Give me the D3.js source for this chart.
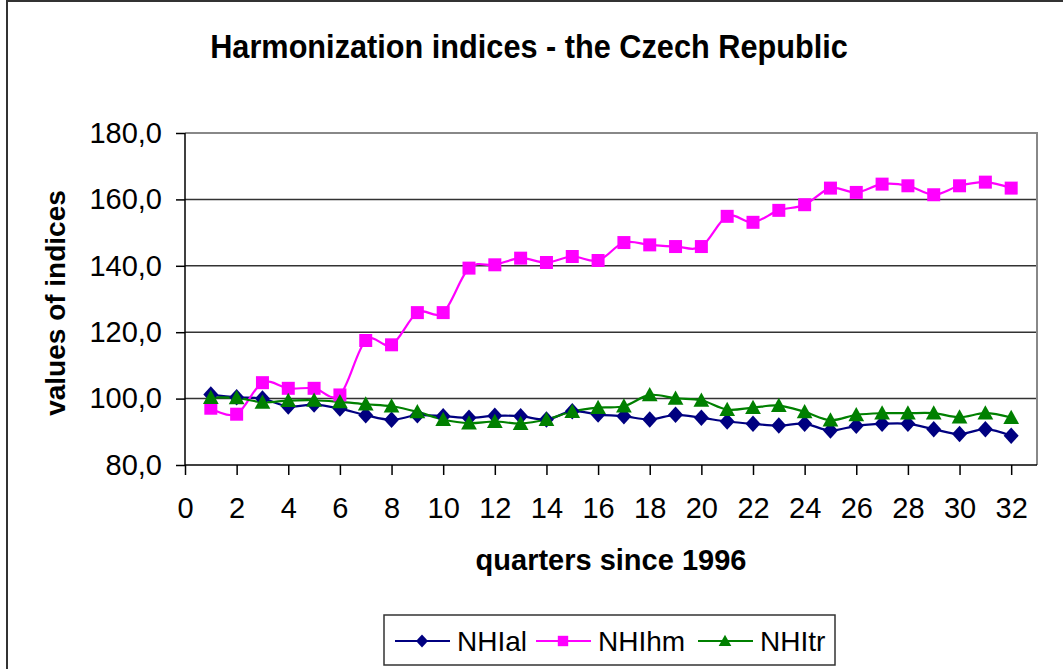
<!DOCTYPE html>
<html><head><meta charset="utf-8">
<script src="https://cdn.jsdelivr.net/npm/d3@7"></script>
<style>html,body{margin:0;padding:0;background:#fff;}svg{display:block;}</style>
</head><body>
<svg id="chart" width="1063" height="669"></svg>
<script>
const quarters = d3.range(1, 33);
const NHIal = [101.2,100.4,100.0,97.6,98.2,97.0,95.0,93.6,95.0,94.7,94.2,94.8,94.7,93.7,96.2,95.2,94.7,93.7,95.1,94.2,93.1,92.4,91.9,92.4,90.4,91.8,92.4,92.4,90.8,89.3,90.8,88.8];
const NHIhm = [97.1,95.3,104.8,103.1,103.1,101.1,117.5,116.2,125.9,125.9,139.3,140.3,142.3,141.0,142.8,141.6,147.0,146.3,145.8,145.8,154.9,153.1,156.7,158.4,163.4,162.1,164.6,164.1,161.4,164.1,165.2,163.4];
const NHItr = [100.3,100.2,98.9,99.4,99.5,99.0,98.3,97.7,96.0,93.7,92.6,93.1,92.5,93.7,96.1,97.3,97.7,101.1,100.1,99.5,96.7,97.3,97.9,96.0,93.5,95.1,95.6,95.6,95.6,94.4,95.6,94.3];
const seriesNames = ["NHIal","NHIhm","NHItr"];
const xTicks = d3.range(0, 33, 2);
const yTicks = [80,100,120,140,160,180];
const titleText = "Harmonization indices - the Czech Republic";
const xTitle = "quarters since 1996";
const yTitle = "values of indices";

// custom marker shapes (size = half extent in px)
const diamond = {draw(c, s){ c.moveTo(0,-s*1.1); c.lineTo(s,0); c.lineTo(0,s*1.1); c.lineTo(-s,0); c.closePath(); }};
const square = {draw(c, s){ c.rect(-s,-s,2*s,2*s); }};
const triangle = {draw(c, s){ c.moveTo(0,-s*1.05); c.lineTo(s*1.05,s*0.85); c.lineTo(-s*1.05,s*0.85); c.closePath(); }};

const series = [
  {name: seriesNames[0], values: NHIal, color: "#000080", symbol: diamond, size: 7.5},
  {name: seriesNames[1], values: NHIhm, color: "#FF00FF", symbol: square, size: 6.5},
  {name: seriesNames[2], values: NHItr, color: "#008000", symbol: triangle, size: 7.5}
];

const font = "'Liberation Sans', Arial, sans-serif";
const svg = d3.select("#chart");
const L = 185, R = 1037, T = 133, B = 465;
const x = d3.scaleLinear().domain([0, 33]).range([L, R]);
const y = d3.scaleLinear().domain([80, 180]).range([B, T]);

svg.append("rect").attr("x", 7).attr("y", 1).attr("width", 1100).attr("height", 700)
  .attr("fill", "#fff").attr("stroke", "#333").attr("stroke-width", 2);

svg.append("text").attr("transform", "translate(529,58) scale(0.93,1)").attr("text-anchor", "middle")
  .attr("font-family", font).attr("font-weight", "bold").attr("font-size", 33)
  .text(titleText);

svg.append("g").selectAll("line").data(yTicks.filter(d => d > 80 && d < 180)).join("line")
  .attr("x1", L).attr("x2", R).attr("y1", d => y(d)).attr("y2", d => y(d))
  .attr("stroke", "#333").attr("stroke-width", 1.5);

svg.append("path").attr("d", `M${L},${T}H${R}V${B}`).attr("fill", "none")
  .attr("stroke", "#888").attr("stroke-width", 2);

const yAxis = d3.axisLeft(y).tickValues(yTicks).tickSize(9).tickPadding(14)
  .tickFormat(d => d3.format(".1f")(d).replace(".", ","));
const gy = svg.append("g").attr("transform", `translate(${L},0)`).call(yAxis);
const xAxis = d3.axisBottom(x).tickValues(xTicks).tickSize(10).tickPadding(22);
const gx = svg.append("g").attr("transform", `translate(0,${B})`).call(xAxis);
[gx, gy].forEach(g => {
  g.select(".domain").attr("stroke", "#000").attr("stroke-width", 1.5);
  g.selectAll(".tick line").attr("stroke", "#000").attr("stroke-width", 1.5);
  g.selectAll(".tick text").attr("font-family", font).attr("font-size", 29).attr("fill", "#000");
});
gx.select(".domain").attr("d", `M${L},0H${R}`);
gy.select(".domain").attr("d", `M0,${T}V${B}`);

svg.append("text").attr("x", 611).attr("y", 570).attr("text-anchor", "middle")
  .attr("font-family", font).attr("font-weight", "bold").attr("font-size", 29).text(xTitle);
svg.append("text").attr("transform", `translate(65,303) rotate(-90)`).attr("text-anchor", "middle")
  .attr("font-family", font).attr("font-weight", "bold").attr("font-size", 28).text(yTitle);

const line = d3.line().x((d, i) => x(quarters[i])).y(d => y(d)).curve(d3.curveCatmullRom.alpha(0));
series.forEach(s => {
  svg.append("path").datum(s.values).attr("d", line).attr("fill", "none")
    .attr("stroke", s.color).attr("stroke-width", 2.2);
});
series.forEach(s => {
  svg.append("g").selectAll("path").data(s.values).join("path")
    .attr("transform", (d, i) => `translate(${x(quarters[i])},${y(d)})`)
    .attr("d", d3.symbol().type(s.symbol).size(s.size)).attr("fill", s.color);
});

const lg = svg.append("g");
lg.append("rect").attr("x", 384).attr("y", 615).attr("width", 451).attr("height", 50)
  .attr("fill", "#fff").attr("stroke", "#333").attr("stroke-width", 1.5);
const legendX = [395, 536, 698];
series.forEach((s, i) => {
  const lx = legendX[i], ly = 641;
  lg.append("line").attr("x1", lx).attr("x2", lx + 55).attr("y1", ly).attr("y2", ly)
    .attr("stroke", s.color).attr("stroke-width", 2);
  lg.append("path").attr("transform", `translate(${lx + 27},${ly})`)
    .attr("d", d3.symbol().type(s.symbol).size(s.size * 0.8)).attr("fill", s.color);
  lg.append("text").attr("x", lx + 62).attr("y", ly + 10).attr("font-family", font)
    .attr("font-size", 28).text(s.name);
});
</script>
</body></html>
